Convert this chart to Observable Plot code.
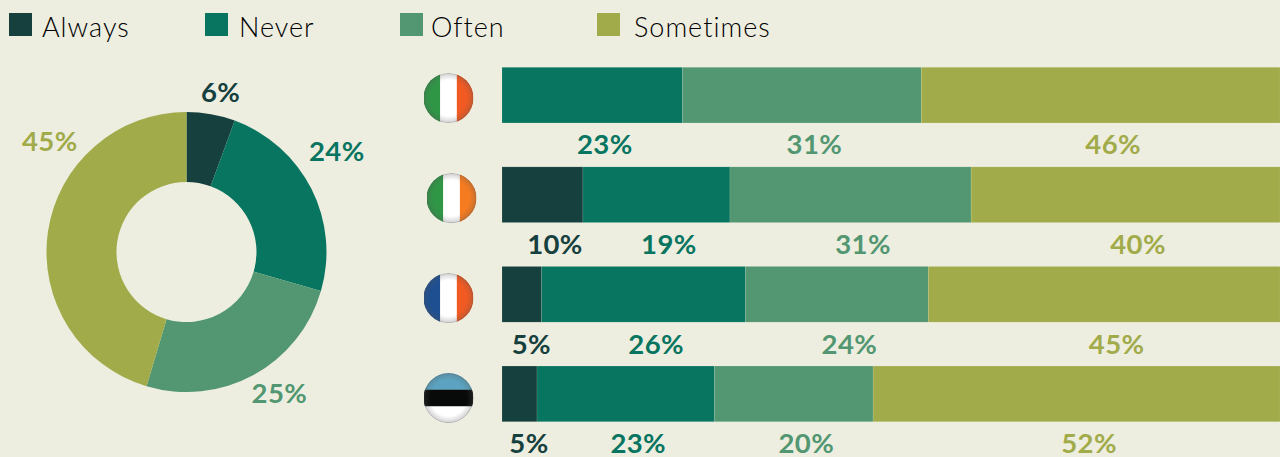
<!DOCTYPE html>
<html><head><meta charset="utf-8">
<script src="https://cdn.jsdelivr.net/npm/d3@7"></script>
<script src="https://cdn.jsdelivr.net/npm/@observablehq/plot@0.6"></script>
<style>
html,body{margin:0;padding:0;background:#eeeee0;overflow:hidden}
#root{position:relative;width:1280px;height:457px;font-family:Lato,sans-serif}
#legend{position:absolute;left:0;top:0;width:1280px;height:50px}
.item{position:absolute;top:13px;height:24px}
.sw{position:absolute;left:0;top:0;width:23px;height:23px}
.lb{position:absolute;top:-1px;font-size:27px;line-height:30px;color:#000;white-space:nowrap;font-weight:300;letter-spacing:1px}
#charts{position:absolute;left:0;top:50px;display:flex}
svg{display:block;background:transparent}
</style></head><body>
<div id="root"><div id="legend"></div><div id="charts"></div></div>
<script>
const categories = ["Always","Never","Often","Sometimes"];
const colors = ["#16403e","#087560","#529772","#a1ab4a"];
const background = "#eeeee0";

const pieValues = [5.6,23.9,25.1,45.4];
const pieLabels = ["6%","24%","25%","45%"];
const pieLabelX = [0.24,1.07,0.66,-0.98];
const pieLabelY = [1.14,0.72,-1.01,0.79];

const countries = ["Italy","Ireland","France","Estonia"];
const always    = [0,10.4,5.1,4.5];
const never     = [23.2,18.9,26.2,22.8];
const often     = [30.7,31,23.5,20.4];
const sometimes = [46.1,39.7,45.2,52.3];
const alwaysLabels    = ["","10%","5%","5%"];
const neverLabels     = ["23%","19%","26%","23%"];
const oftenLabels     = ["31%","31%","24%","20%"];
const sometimesLabels = ["46%","40%","45%","52%"];

const flagStripes = [
  ["#2f9646","#ffffff","#f15a22"],
  ["#2f9646","#ffffff","#f47b20"],
  ["#1d4f91","#ffffff","#f15a22"],
  ["#5ba3c0","#080a0a","#ffffff"]
];
const flagHorizontal = [false,false,false,true];
const flagX = [-6.94,-6.55,-6.94,-6.94];
const flagDy = [2.4,2.9,3.3,3.7];

const legendLeft = [9,205,400,597];
const legendTextLeft = [33,34,31,37];

// legend
const legend = d3.select("#legend");
categories.forEach((c,i)=>{
  const it = legend.append("div").attr("class","item").style("left",legendLeft[i]+"px");
  it.append("div").attr("class","sw").style("background",colors[i]);
  it.append("div").attr("class","lb").style("left",legendTextLeft[i]+"px").text(c);
});

const labelFont = {fontSize:27.5,fontWeight:700,fontFamily:"Lato"};
const plotStyle = {background:"transparent",overflow:"visible",letterSpacing:"0.4px"};

// donut
const slices = d3.pie().sort(null)(pieValues);
const pieTable = categories.map((c,i)=>({category:c,label:pieLabels[i],x:pieLabelX[i],y:pieLabelY[i]}));
const colorScale = {domain:categories, range:colors};
function donut(index, scales, values, dimensions){
  const cx = scales.x(0), cy = scales.y(0), r = scales.x(1)-scales.x(0);
  const arc = d3.arc().innerRadius(r*0.5).outerRadius(r);
  const g = d3.create("svg:g").attr("transform",`translate(${cx},${cy})`);
  slices.forEach((s,i)=>g.append("path").attr("d",arc(s)).attr("fill",colors[i]));
  return g.node();
}
const pie = Plot.plot({
  width:420,height:407,margin:0,
  style:plotStyle,
  x:{domain:[-1.332,1.668],range:[0,420],axis:null},
  y:{domain:[-1.464,1.443],range:[407,0],axis:null},
  color:colorScale,
  marks:[
    donut,
    Plot.text(pieTable,{x:"x",y:"y",text:"label",fill:"category",...labelFont})
  ]
});

// bars
const series = [always,never,often,sometimes];
const seriesLabels = [alwaysLabels,neverLabels,oftenLabels,sometimesLabels];
const rows = [];
countries.forEach((country,r)=>categories.forEach((category,c)=>{
  if(series[c][r]>0) rows.push({country,category,value:series[c][r],label:seriesLabels[c][r]});
}));
function flagSrc(r){
  const cols = flagStripes[r], h = flagHorizontal[r];
  const stripes = cols.map((col,i)=> h
    ? `<rect x='0' y='${i*100/3}' width='100' height='${100/3+0.3}' fill='${col}'/>`
    : `<rect x='${i*100/3}' y='0' width='${100/3+0.3}' height='100' fill='${col}'/>`).join("");
  const svg = `<svg xmlns='http://www.w3.org/2000/svg' viewBox='0 0 100 100'><defs><radialGradient id='g'><stop offset='0.72' stop-color='#555' stop-opacity='0'/><stop offset='0.94' stop-color='#555' stop-opacity='0.22'/><stop offset='1' stop-color='#444' stop-opacity='0.5'/></radialGradient><clipPath id='c'><circle cx='50' cy='50' r='50'/></clipPath></defs><g clip-path='url(#c)'>${stripes}<circle cx='50' cy='50' r='50' fill='url(#g)'/></g></svg>`;
  return "data:image/svg+xml;charset=utf-8,"+encodeURIComponent(svg);
}
const bars = Plot.plot({
  width:860,height:407,marginLeft:82,marginRight:0,marginTop:0,marginBottom:0,
  style:plotStyle,
  x:{domain:[0,100],range:[82,860],axis:null},
  y:{domain:countries,range:[17.3,371.7],paddingInner:0.441,paddingOuter:0,round:false,axis:null},
  color:colorScale,
  marks:[
    Plot.barX(rows,Plot.stackX({x:"value",y:"country",fill:"category",order:null,stroke:background,strokeOpacity:0.2,strokeWidth:0.6})),
    Plot.text(rows,Plot.stackX({x:"value",y:"country",fill:"category",text:d=>d.value>6?d.label:"",order:null,dx:12,dy:50,...labelFont})),
    Plot.text(rows,Plot.stackX({x:"value",y:"country",fill:"category",text:d=>d.value>6?"":d.label,order:null,dx:9,dy:50,...labelFont})),
    ...countries.map((country,r)=>Plot.image([country],{x:()=>flagX[r],y:d=>d,src:()=>flagSrc(r),width:50,height:50,dy:flagDy[r]}))
  ]
});
document.getElementById("charts").append(pie,bars);
</script></body></html>
